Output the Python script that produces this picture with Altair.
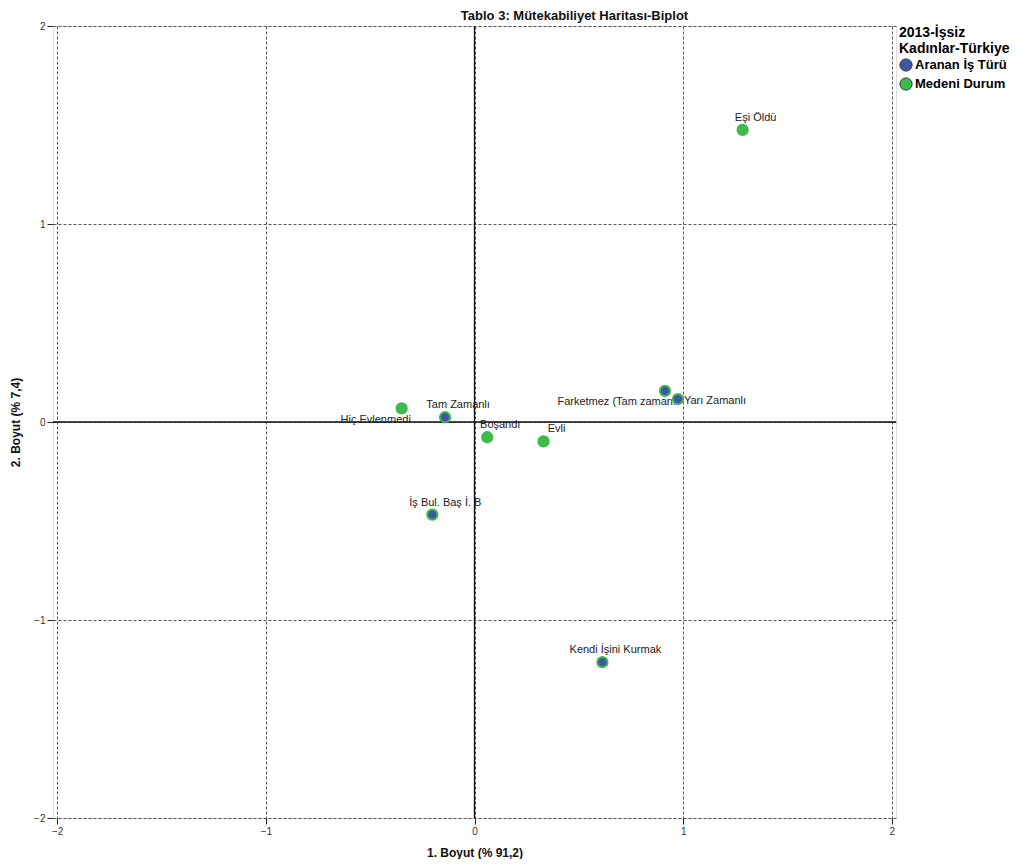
import altair as alt
import pandas as pd

# ---- data ----
labels = ["Eşi Öldü", "Hiç Evlenmedi", "Boşandı", "Evli",
          "Tam Zamanlı", "Farketmez (Tam zamanı", "Yarı Zamanlı",
          "İş Bul. Baş İ. B", "Kendi İşini Kurmak"]
groups = ["Medeni Durum", "Medeni Durum", "Medeni Durum", "Medeni Durum",
          "Aranan İş Türü", "Aranan İş Türü", "Aranan İş Türü",
          "Aranan İş Türü", "Aranan İş Türü"]
dim1 = [1.285, -0.349, 0.061, 0.331, -0.141, 0.913, 0.975, -0.202, 0.613]
dim2 = [1.475, 0.069, -0.077, -0.098, 0.024, 0.157, 0.116, -0.468, -1.213]
ticks = [-2, -1, 0, 1, 2]
legend_order = ["Aranan İş Türü", "Medeni Durum"]

df = pd.DataFrame({"label": labels, "grp": groups, "x": dim1, "y": dim2})

FONT = "Liberation Sans"
BLUE = "#3F56A6"
GREEN = "#3DBB4A"

xs = alt.Scale(domain=[-2.02, 2.02], nice=False, zero=False)
ys = alt.Scale(domain=[-2, 2], nice=False, zero=False)


def make_axis(title_pad):
    return alt.Axis(values=ticks, format="d", grid=True, gridColor="#555555",
                    gridDash=[3, 2], gridWidth=1, domain=False,
                    tickColor="#222222", tickSize=6, labelFontSize=10,
                    labelColor="#333333", labelPadding=2,
                    titleFontSize=12, titleFontWeight="bold",
                    titleColor="#111111", titlePadding=title_pad, labelFont=FONT,
                    titleFont=FONT)


x_enc = alt.X("x:Q", scale=xs, title="1. Boyut (% 91,2)", axis=make_axis(11))
y_enc = alt.Y("y:Q", scale=ys, title="2. Boyut (% 7,4)", axis=make_axis(11))

base = alt.Chart(df)

zero_v = alt.Chart(pd.DataFrame({"v": [0]})).mark_rule(color="#111111", strokeWidth=1.3).encode(
    x=alt.X("v:Q", scale=xs))
zero_h = alt.Chart(pd.DataFrame({"v": [0]})).mark_rule(color="#111111", strokeWidth=1.3).encode(
    y=alt.Y("v:Q", scale=ys))

# label placement (layout, not data)
special = {
    "Hiç Evlenmedi": dict(align="center", dx=-26, dy=12),
    "Farketmez (Tam zamanı": dict(align="right", dx=11, dy=11),
    "Yarı Zamanlı": dict(align="left", dx=6, dy=2),
}
default_place = dict(align="center", dx=13, dy=-12)

text_layers = []
default_labels = [l for l in labels if l not in special]
text_layers.append(
    base.transform_filter(alt.FieldOneOfPredicate(field="label", oneOf=default_labels))
    .mark_text(font=FONT, fontSize=11, color="#222222", baseline="middle", **default_place)
    .encode(x=alt.X("x:Q", scale=xs), y=alt.Y("y:Q", scale=ys), text="label:N")
)
for lab, place in special.items():
    text_layers.append(
        base.transform_filter(alt.datum.label == lab)
        .mark_text(font=FONT, fontSize=11, color="#222222", baseline="middle", **place)
        .encode(x=alt.X("x:Q", scale=xs), y=alt.Y("y:Q", scale=ys), text="label:N")
    )

points = base.mark_point(filled=True, size=105, opacity=1, stroke=GREEN,
                         strokeWidth=2, strokeOpacity=1).encode(
    x=x_enc, y=y_enc,
    fill=alt.Fill("grp:N", scale=alt.Scale(domain=legend_order, range=[BLUE, GREEN]),
                  legend=alt.Legend(title=["2013-İşsiz", "Kadınlar-Türkiye"],
                                    orient="none", legendX=846, legendY=0,
                                    titleFontSize=14, titleFont=FONT,
                                    titleFontWeight="bold", titleColor="#000000",
                                    titleLineHeight=16, titlePadding=2,
                                    labelFont=FONT, labelFontSize=13,
                                    labelFontWeight="bold", labelColor="#000000",
                                    symbolType="circle", symbolSize=150,
                                    symbolStrokeColor="#333333", symbolStrokeWidth=1,
                                    rowPadding=1, labelOffset=2)),
)

chart = alt.layer(zero_v, zero_h, *text_layers, points).properties(
    width=843, height=792,
    autosize=alt.AutoSizeParams(type="none"),
    padding={"left": 45, "top": 18, "right": 128, "bottom": 41},
    title=alt.TitleParams("Tablo 3: Mütekabiliyet Haritası-Biplot", anchor="middle",
                          frame="group", dx=100, fontSize=13, font=FONT,
                          fontWeight="bold", color="#111111", offset=-2),
).configure_view(fill="#F0F0F0", stroke="#444444", strokeWidth=1.2).configure(
    background="white")

chart.save("out.html", embed_options={"renderer": "svg", "actions": False})
